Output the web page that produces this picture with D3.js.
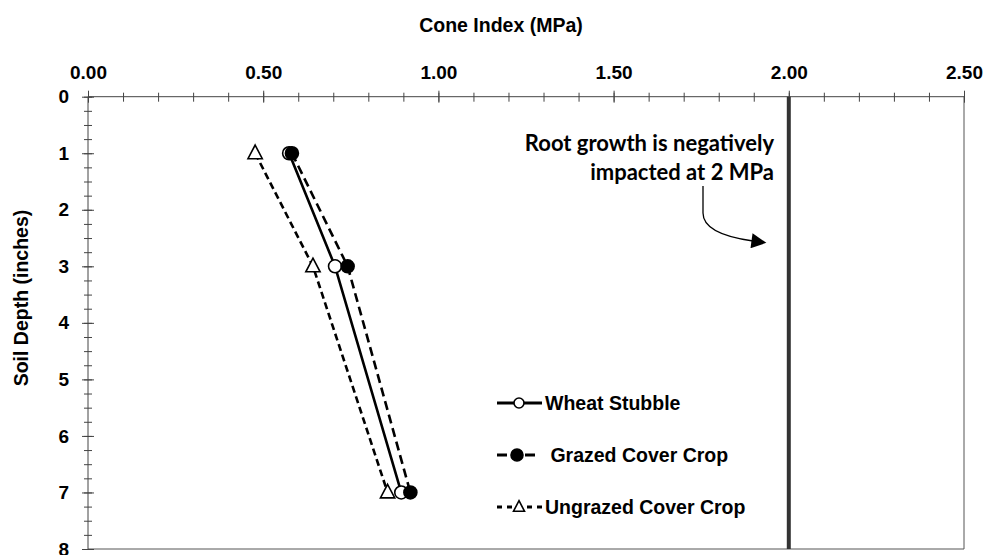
<!DOCTYPE html>
<html>
<head>
<meta charset="UTF-8">
<title>Cone Index</title>
<style>
    body { margin: 0; padding: 0; background: #FFFFFF; }
    svg { display: block; }
    .tick-label { font-family: "Liberation Sans", Arial, sans-serif; font-weight: bold; font-size: 19px; fill: #000; }
    .axis-title { font-family: "Liberation Sans", Arial, sans-serif; font-weight: bold; font-size: 19.5px; fill: #000; }
    .legend-text { font-family: "Liberation Sans", Arial, sans-serif; font-weight: bold; font-size: 19.5px; fill: #000; }
    .note { font-family: Lato, "Open Sans", sans-serif; font-weight: bold; font-size: 22px; fill: #000; }
</style>
</head>
<body>
<script src="https://cdn.jsdelivr.net/npm/d3@7"></script>
<script>
    // data
    const depths = [1, 3, 7];
    const wheatStubble = [0.574, 0.705, 0.894];
    const grazedCover = [0.582, 0.741, 0.920];
    const ungrazedCover = [0.477, 0.642, 0.855];
    const xTicks = [0, 0.5, 1.0, 1.5, 2.0, 2.5];
    const yTicks = [0, 1, 2, 3, 4, 5, 6, 7, 8];
    const threshold = 2.0;

    const width = 985, height = 555;

    const svg = d3.select("body").append("svg")
        .attr("width", width)
        .attr("height", height);

    const x = d3.scaleLinear().domain([0, 2.5]).range([88, 964]);
    const y = d3.scaleLinear().domain([0, 8]).range([96.7, 549]);

    // frame (right + bottom)
    svg.append("line")
        .attr("x1", x(2.5)).attr("x2", x(2.5))
        .attr("y1", y(0)).attr("y2", y(8))
        .attr("stroke", "#555").attr("stroke-width", 1);
    svg.append("line")
        .attr("x1", x(0)).attr("x2", x(2.5))
        .attr("y1", y(8)).attr("y2", y(8))
        .attr("stroke", "#555").attr("stroke-width", 1);

    // minor ticks
    const xMinor = d3.range(0, 2.5001, 0.1);
    const yMinor = d3.range(0, 8.001, 0.25);

    svg.append("g")
        .attr("transform", "translate(0," + y(0) + ")")
        .call(d3.axisTop(x).tickValues(xMinor).tickFormat(""))
        .call(g => g.select(".domain").remove())
        .call(g => g.selectAll("line").attr("y1", -4).attr("y2", 5).attr("stroke", "#444"));

    svg.append("g")
        .attr("transform", "translate(" + x(0) + ",0)")
        .call(d3.axisLeft(y).tickValues(yMinor).tickFormat(""))
        .call(g => g.select(".domain").remove())
        .call(g => g.selectAll("line").attr("x1", -4).attr("x2", 4).attr("stroke", "#444"));

    // major axes
    const xAxis = svg.append("g")
        .attr("transform", "translate(0," + y(0) + ")")
        .call(d3.axisTop(x).tickValues(xTicks).tickFormat(d3.format(".2f")).tickSizeOuter(0));
    xAxis.select(".domain").attr("stroke", "#444").attr("d", "M" + x(0) + ",0H" + x(2.5));
    xAxis.selectAll(".tick line").attr("y1", -6).attr("y2", 6).attr("stroke", "#444");
    xAxis.selectAll(".tick text").attr("class", "tick-label").attr("y", -18);

    const yAxis = svg.append("g")
        .attr("transform", "translate(" + x(0) + ",0)")
        .call(d3.axisLeft(y).tickValues(yTicks).tickFormat(d3.format("d")).tickSizeOuter(0));
    yAxis.select(".domain").attr("stroke", "#444").attr("d", "M0," + y(0) + "V" + y(8));
    yAxis.selectAll(".tick line").attr("x1", -6).attr("x2", 6).attr("stroke", "#444");
    yAxis.selectAll(".tick text").attr("class", "tick-label").attr("x", -19);

    // titles
    svg.append("text")
        .attr("class", "axis-title")
        .attr("x", 501).attr("y", 32)
        .attr("text-anchor", "middle")
        .text("Cone Index (MPa)");

    svg.append("text")
        .attr("class", "axis-title")
        .attr("transform", "translate(28,298) rotate(-90)")
        .attr("text-anchor", "middle")
        .text("Soil Depth (inches)");

    // 2 MPa line
    svg.append("line")
        .attr("x1", x(threshold)).attr("x2", x(threshold))
        .attr("y1", y(0)).attr("y2", y(8))
        .attr("stroke", "#333").attr("stroke-width", 4);

    // annotation
    const note = svg.append("text")
        .attr("class", "note")
        .attr("text-anchor", "end");
    note.append("tspan").attr("x", 774).attr("y", 151).text("Root growth is negatively");
    note.append("tspan").attr("x", 774).attr("y", 180).text("impacted at 2 MPa");

    svg.append("defs").append("marker")
        .attr("id", "arrow")
        .attr("viewBox", "0 0 10 10")
        .attr("refX", 1).attr("refY", 5)
        .attr("markerWidth", 18).attr("markerHeight", 15)
        .attr("markerUnits", "userSpaceOnUse")
        .attr("orient", "auto")
        .append("path")
        .attr("d", "M0,0L10,5L0,10Z")
        .attr("fill", "#000");

    svg.append("path")
        .attr("d", "M703,186V213C703,229 724,237 753,241")
        .attr("fill", "none")
        .attr("stroke", "#000")
        .attr("stroke-width", 1.3)
        .attr("marker-end", "url(#arrow)");

    // series
    const series = [
        {name: "Ungrazed Cover Crop", values: ungrazedCover, dash: "7,4", marker: "triangle"},
        {name: "Wheat Stubble", values: wheatStubble, dash: null, marker: "open"},
        {name: "Grazed Cover Crop", values: grazedCover, dash: "9,5", marker: "filled"}
    ];

    const line = d3.line()
        .x(d => x(d.v))
        .y(d => y(d.depth));

    function drawMarker(g, type, cx, cy, size) {
        if (type === "triangle") {
            const h = size * 2.1, w = size * 2.2;
            g.append("path")
                .attr("d", "M" + cx + "," + (cy - h * 0.6) + "L" + (cx + w / 2) + "," + (cy + h * 0.4) + "L" + (cx - w / 2) + "," + (cy + h * 0.4) + "Z")
                .attr("fill", "#fff").attr("stroke", "#000").attr("stroke-width", 1.6);
        } else {
            g.append("circle")
                .attr("cx", cx).attr("cy", cy).attr("r", size)
                .attr("fill", type === "filled" ? "#000" : "#fff")
                .attr("stroke", "#000").attr("stroke-width", 1.6);
        }
    }

    series.forEach(s => {
        const pts = depths.map((depth, i) => ({depth: depth, v: s.values[i]}));
        svg.append("path")
            .datum(pts)
            .attr("d", line)
            .attr("fill", "none")
            .attr("stroke", "#000")
            .attr("stroke-width", 2.6)
            .attr("stroke-dasharray", s.dash);
    });

    series.forEach(s => {
        const g = svg.append("g");
        depths.forEach((depth, i) => drawMarker(g, s.marker, x(s.values[i]), y(depth), 6.5));
    });

    // legend
    const legendRows = [
        {name: "Wheat Stubble", marker: "open", dash: null, x2: 542, rowY: 403},
        {name: "Grazed Cover Crop", marker: "filled", dash: "10,18", x2: 535, rowY: 455},
        {name: "Ungrazed Cover Crop", marker: "triangle", dash: "5,5", x2: 542, rowY: 507}
    ];

    legendRows.forEach(r => {
        const g = svg.append("g");
        g.append("line")
            .attr("x1", 497).attr("x2", r.x2)
            .attr("y1", r.rowY).attr("y2", r.rowY)
            .attr("stroke", "#000").attr("stroke-width", 2.8)
            .attr("stroke-dasharray", r.dash);
        drawMarker(g, r.marker, r.marker === "filled" ? 517 : 519, r.rowY, r.marker === "filled" ? 6 : 5);
        g.append("text")
            .attr("class", "legend-text")
            .attr("x", 545).attr("y", r.rowY + 7)
            .text(r.marker === "filled" ? "\u00a0Grazed Cover Crop" : r.name);
    });
</script>
</body>
</html>
